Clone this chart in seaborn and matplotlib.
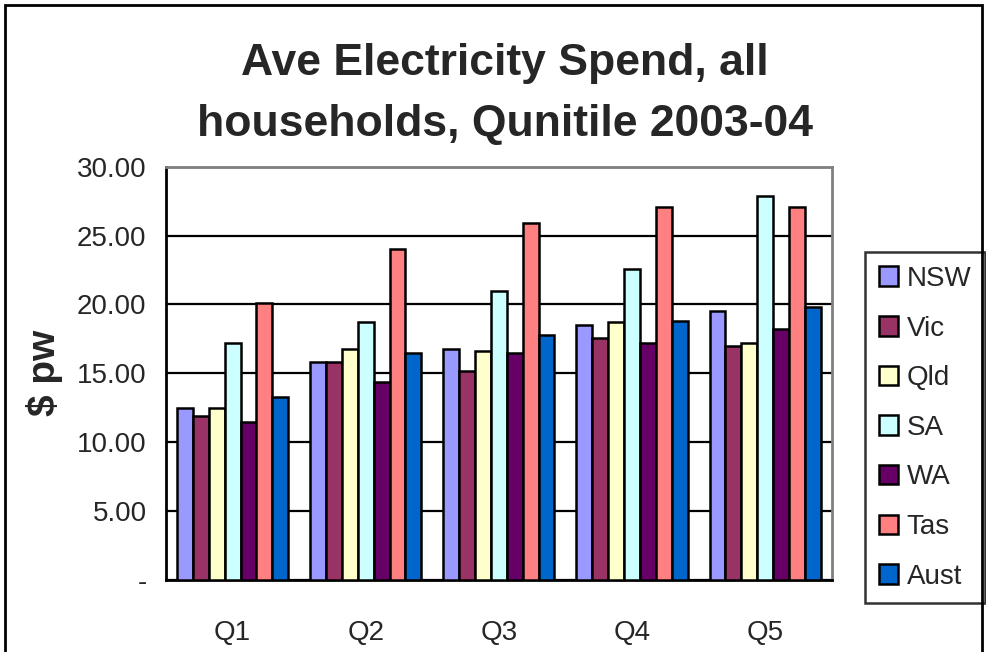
import pandas as pd
import seaborn as sns
import matplotlib.pyplot as plt
from matplotlib.patches import Rectangle
from matplotlib.ticker import FixedLocator

quintiles = ["Q1", "Q2", "Q3", "Q4", "Q5"]
states = ["NSW", "Vic", "Qld", "SA", "WA", "Tas", "Aust"]
nsw = [12.5, 15.8, 16.8, 18.5, 19.5]
vic = [11.9, 15.8, 15.2, 17.6, 17.0]
qld = [12.5, 16.8, 16.6, 18.7, 17.2]
sa = [17.2, 18.7, 21.0, 22.6, 27.9]
wa = [11.5, 14.4, 16.5, 17.2, 18.2]
tas = [20.1, 24.0, 25.9, 27.1, 27.1]
aust = [13.3, 16.5, 17.8, 18.8, 19.8]
colors = ["#9999FF", "#993366", "#FFFFCC", "#CCFFFF", "#660066", "#FF8080", "#0066CC"]

vals = {"NSW": nsw, "Vic": vic, "Qld": qld, "SA": sa, "WA": wa, "Tas": tas, "Aust": aust}
rows = []
for s in states:
    for q, v in zip(quintiles, vals[s]):
        rows.append({"quintile": q, "state": s, "spend": v})
df = pd.DataFrame(rows)

sns.set_style("white")
plt.rcParams['font.family'] = ['Liberation Sans', 'DejaVu Sans']

fig = plt.figure(figsize=(9.86, 6.52), dpi=100)
ax = fig.add_axes([0.1684, 0.1104, 0.6751, 0.6339])

sns.barplot(data=df, x="quintile", y="spend", hue="state", hue_order=states,
            palette=colors, width=0.835, gap=0, edgecolor="black", linewidth=1.8,
            saturation=1, errorbar=None, ax=ax, zorder=3)

ax.set_ylim(0, 30)
ax.set_xlim(-0.5, 4.5)
ax.set_yticks([0, 5, 10, 15, 20, 25, 30])
ax.set_yticklabels(["-", "5.00", "10.00", "15.00", "20.00", "25.00", "30.00"])
ax.yaxis.grid(True, color="black", linewidth=1.6, zorder=0)
ax.set_axisbelow(True)
ax.xaxis.set_minor_locator(FixedLocator([-0.5, 0.5, 1.5, 2.5, 3.5, 4.5]))
ax.tick_params(axis="x", which="major", length=0, pad=29, labelsize=20)
ax.tick_params(axis="x", which="minor", length=9, width=2, color="black", direction="out")
ax.tick_params(axis="y", length=8, width=2, color="black", direction="out", labelsize=20, pad=6)
ax.set_xlabel("")
ax.set_ylabel("$ pw", fontsize=28, fontweight="bold", labelpad=10)

for side in ["left", "bottom"]:
    ax.spines[side].set_color("black")
    ax.spines[side].set_linewidth(2)
for side in ["top", "right"]:
    ax.spines[side].set_color("#808080")
    ax.spines[side].set_linewidth(2)

leg = ax.legend(loc="upper left", bbox_to_anchor=(865 / 986, 1 - 252 / 652),
                bbox_transform=fig.transFigure, fontsize=20, frameon=True,
                fancybox=False, edgecolor="black", handlelength=0.7, handleheight=0.7,
                handletextpad=0.3, labelspacing=0.85, borderpad=0.5, borderaxespad=0)
leg.get_frame().set_linewidth(1.8)
for h in leg.legend_handles:
    h.set_edgecolor("black")
    h.set_linewidth(1.8)

fig.text(505 / 986, 1 - 94 / 652, "Ave Electricity Spend, all\nhouseholds, Qunitile 2003-04",
         ha="center", va="center", fontsize=32, fontweight="bold", linespacing=1.65)

fig.patches.append(Rectangle((5 / 986, -0.05), 977 / 986, 1 - 5 / 652 + 0.05,
                             transform=fig.transFigure, fill=False,
                             edgecolor="black", linewidth=2))

fig.savefig("out.png", dpi=100)
